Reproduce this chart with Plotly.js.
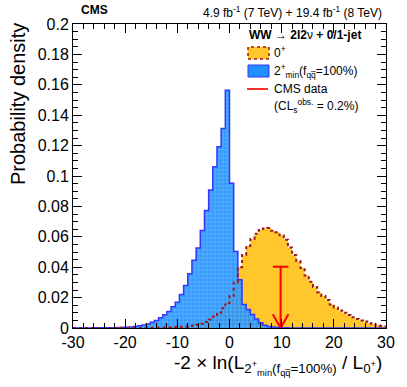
<!DOCTYPE html>
<html>
<head>
<meta charset="utf-8">
<script src="https://cdn.plot.ly/plotly-3.0.1.min.js"></script>
<style>html,body{margin:0;padding:0;background:#fff;}#chart{width:407px;height:387px;}</style>
</head>
<body>
<div id="chart"></div>
<script>
// bin centres (bin width 0.8, edges on multiples of 0.8); end points at the axis limits
const binCenters = [
  -30, -29.2, -28.4, -27.6, -26.8, -26.0, -25.2, -24.4, -23.6, -22.8,
  -22.0, -21.2, -20.4, -19.6, -18.8, -18.0, -17.2, -16.4, -15.6, -14.8,
  -14.0, -13.2, -12.4, -11.6, -10.8, -10.0, -9.2, -8.4, -7.6, -6.8,
  -6.0, -5.2, -4.4, -3.6, -2.8, -2.0, -1.2, -0.4, 0.4, 1.2,
  2.0, 2.8, 3.6, 4.4, 5.2, 6.0, 6.8, 7.6, 8.4, 9.2,
  10.0, 10.8, 11.6, 12.4, 13.2, 14.0, 14.8, 15.6, 16.4, 17.2,
  18.0, 18.8, 19.6, 20.4, 21.2, 22.0, 22.8, 23.6, 24.4, 25.2,
  26.0, 26.8, 27.6, 28.4, 29.2, 30
];
// 2+min (fqq=100%) pseudo-experiments
const spin2Density = [
  0, 0, 0, 0, 0, 0.0001, 0.0001, 0.0001, 0.0001, 0.0001,
  0.0002, 0.0003, 0.0004, 0.0005, 0.0007, 0.0010, 0.0014, 0.0020, 0.0027, 0.0038,
  0.0049, 0.0067, 0.0087, 0.0108, 0.0139, 0.0169, 0.0220, 0.0279, 0.0357, 0.0445,
  0.0526, 0.0641, 0.0773, 0.0908, 0.1061, 0.1192, 0.1313, 0.1564, 0.0952, 0.0504,
  0.0318, 0.0155, 0.0121, 0.0089, 0.0060, 0.0034, 0.0018, 0.0010, 0.0006, 0.0003,
  0.0002, 0.0001, 0, 0, 0, 0, 0, 0, 0, 0,
  0, 0, 0, 0, 0, 0, 0, 0, 0, 0,
  0, 0, 0, 0, 0, 0
];
// 0+ pseudo-experiments
const spin0Density = [
  0, 0, 0, 0, 0, 0, 0, 0, 0, 0,
  0, 0, 0.0001, 0.0001, 0.0001, 0.0001, 0.0001, 0.0001, 0.0001, 0.0002,
  0.0002, 0.0003, 0.0003, 0.0004, 0.0005, 0.0006, 0.0008, 0.0010, 0.0013, 0.0016,
  0.0020, 0.0028, 0.0040, 0.0056, 0.0075, 0.0100, 0.0130, 0.0165, 0.0210, 0.0300,
  0.0400, 0.0480, 0.0540, 0.0585, 0.0620, 0.0645, 0.0655, 0.0658, 0.0640, 0.0630,
  0.0610, 0.0580, 0.0530, 0.0480, 0.0440, 0.0395, 0.0345, 0.0305, 0.0270, 0.0235,
  0.0210, 0.0185, 0.0155, 0.0135, 0.0115, 0.0100, 0.0085, 0.0070, 0.0060, 0.0050,
  0.0042, 0.0032, 0.0024, 0.0018, 0.0013, 0.0010
];
// observed value (CMS data)
const observedValue = 9.8;
const arrowTop = 0.0403;
const arrowHalfWidth = 1.5;
const arrowHeadDepth = 0.009;

const xTickVals = [-30, -20, -10, 0, 10, 20, 30];
const xTickText = ['-30', '-20', '-10', '0', '10', '20', '30'];

const FONT = '"Liberation Sans", Arial, Helvetica, sans-serif';
const ORANGE = '#ffc72c';
const DOTRED = '#9e1a1a';
const BLUEFILL = 'rgba(30,144,255,0.9)';
const BLUELINE = '#3535ff';
const RED = '#ff0000';

const traces = [
  { x: binCenters, y: spin0Density, type: 'scatter', mode: 'lines',
    line: { shape: 'hvh', width: 0, color: ORANGE }, fill: 'tozeroy', fillcolor: ORANGE,
    hoverinfo: 'skip', showlegend: false },
  { x: binCenters, y: spin2Density, type: 'scatter', mode: 'lines',
    line: { shape: 'hvh', width: 1.5, color: BLUELINE }, fill: 'tozeroy', fillcolor: BLUEFILL,
    fillpattern: { shape: '+', bgcolor: BLUEFILL, fgcolor: '#79c0ff', size: 4, solidity: 0.2 },
    hoverinfo: 'skip', showlegend: false },
  { x: binCenters, y: spin0Density, type: 'scatter', mode: 'lines',
    line: { shape: 'hvh', width: 2, color: DOTRED, dash: 'dot' },
    hoverinfo: 'skip', showlegend: false },
  { x: [observedValue - arrowHalfWidth, observedValue + arrowHalfWidth, null,
        observedValue, observedValue, null,
        observedValue - arrowHalfWidth, observedValue, observedValue + arrowHalfWidth],
    y: [arrowTop, arrowTop, null, arrowTop, 0, null, arrowHeadDepth, 0, arrowHeadDepth],
    type: 'scatter', mode: 'lines', line: { color: RED, width: 2 },
    hoverinfo: 'skip', showlegend: false }
];

const L = 73, T = 24, W = 313, H = 304;
const px = v => (v - L) / W;
const py = v => (T + H - v) / H;

const ann = (x, y, text, opts) => Object.assign({
  xref: 'paper', yref: 'paper', x: px(x), y: py(y), text: text, showarrow: false,
  xanchor: 'left', yanchor: 'middle', font: { family: FONT, size: 12, color: '#000' }
}, opts || {});

const layout = {
  width: 407, height: 387,
  margin: { l: L, r: 407 - L - W, t: T, b: 387 - T - H, pad: 0 },
  paper_bgcolor: '#fff', plot_bgcolor: '#fff',
  font: { family: FONT, color: '#000' },
  showlegend: false,
  xaxis: {
    range: [-30, 30], tickmode: 'array', tickvals: xTickVals, ticktext: xTickText,
    ticks: 'inside', ticklen: 9, tickwidth: 1, tickcolor: '#000',
    minor: { tick0: -30, dtick: 2, ticks: 'inside', ticklen: 5, tickcolor: '#000', tickwidth: 1 },
    showline: true, linecolor: '#000', linewidth: 1, mirror: 'allticks',
    showgrid: false, zeroline: false, tickfont: { family: FONT, size: 16, color: '#000' }
  },
  yaxis: {
    range: [0, 0.2], tick0: 0, dtick: 0.02,
    ticks: 'inside', ticklen: 9, tickwidth: 1, tickcolor: '#000',
    minor: { tick0: 0, dtick: 0.005, ticks: 'inside', ticklen: 5, tickcolor: '#000', tickwidth: 1 },
    showline: true, linecolor: '#000', linewidth: 1, mirror: 'allticks',
    showgrid: false, zeroline: false, tickfont: { family: FONT, size: 16, color: '#000' }
  },
  shapes: [
    { type: 'rect', xref: 'paper', yref: 'paper', x0: px(248), x1: px(269), y0: py(59), y1: py(47),
      fillcolor: ORANGE, line: { color: DOTRED, width: 1.5, dash: 'dot' } },
    { type: 'rect', xref: 'paper', yref: 'paper', x0: px(248), x1: px(269), y0: py(77), y1: py(65),
      fillcolor: '#1e90ff', line: { color: BLUELINE, width: 1 } },
    { type: 'line', xref: 'paper', yref: 'paper', x0: px(247), x1: px(268), y0: py(89), y1: py(89),
      line: { color: '#ff3030', width: 2 } }
  ],
  annotations: [
    ann(79, 10, '<b>CMS</b>', { font: { family: FONT, size: 12, color: '#000' } }),
    ann(384, 12, '4.9 fb<sup>-1</sup> (7 TeV) + 19.4 fb<sup>-1</sup> (8 TeV)',
        { xanchor: 'right', font: { family: FONT, size: 12, color: '#000' } }),
    ann(247, 35, '<b>WW → 2l2</b>ν<b> + 0/1-jet</b>', { font: { family: FONT, size: 12, color: '#000' } }),
    ann(272, 52, '0<sup>+</sup>'),
    ann(272, 71, '2<sup>+</sup><sub>min</sub>(f<sub>qq̅</sub>=100%)'),
    ann(272, 89, 'CMS data'),
    ann(272, 106, '(CL<sub>s</sub><sup>obs.</sup> = 0.2%)'),
    ann(18, 21, 'Probability density',
        { xanchor: 'center', yanchor: 'top', textangle: -90, font: { family: FONT, size: 20, color: '#000' } }),
    ann(384, 380, '-2 × ln(L<sub>2<sup>+</sup><sub>min</sub>(f<sub>qq̅</sub>=100%)</sub> / L<sub>0<sup>+</sup></sub>)',
        { xanchor: 'right', yanchor: 'bottom', font: { family: FONT, size: 19, color: '#000' } })
  ]
};

Plotly.newPlot('chart', traces, layout, { staticPlot: true, displayModeBar: false });
</script>
</body>
</html>
